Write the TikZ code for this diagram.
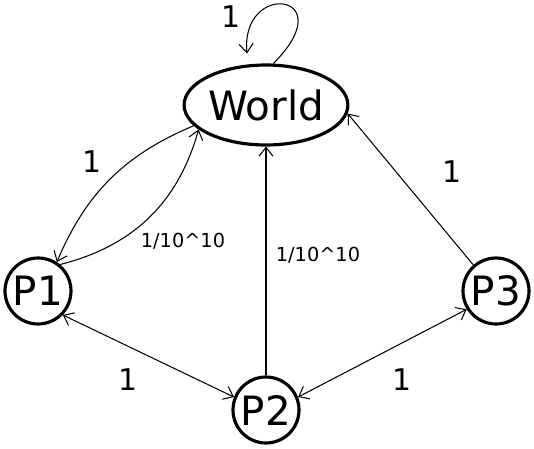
\documentclass[tikz,border=0pt]{standalone}
\usepackage{fontspec}
\setmainfont{DejaVu Sans}
\usetikzlibrary{arrows.meta,shapes.geometric}

\begin{document}
\begin{tikzpicture}
		% Define the styles for the states and the arrows
		\tikzset{
			state circle/.style={circle, draw=black, line width=1.8pt,
				minimum size=1.32cm, inner sep=0pt, font=\fontsize{23}{27}\selectfont},
			world ellipse/.style={ellipse, draw=black, line width=1.8pt,
				minimum width=3.08cm, minimum height=1.6cm, inner sep=0pt,
				font=\fontsize{23}{27}\selectfont},
			arrow line/.style={line width=0.6pt, -{Straight Barb[length=5pt,width=8pt]}},
			double arrow line/.style={line width=0.6pt,
				{Straight Barb[length=5pt,width=8pt]}-{Straight Barb[length=5pt,width=8pt]}},
			big label/.style={font=\fontsize{17}{20}\selectfont},
			small label/.style={font=\fontsize{11}{13}\selectfont}
		}
		
		% Fix the size of the picture
		\useasboundingbox (0,0) rectangle (10.68,-8.98);
		
		% Draw the states
		\node[world ellipse] (World) at (5.32,-2.10) {World};
		\node[state circle] (P1) at (0.76,-5.82) {P1};
		\node[state circle] (P2) at (5.32,-8.20) {P2};
		\node[state circle] (P3) at (9.92,-5.82) {P3};
		
		% Self loop on top of World
		\draw[arrow line, shorten >=2.2mm] (World.80) .. controls +(45:2cm) and +(95:1.7cm) .. (World.114);
		
		% Two curved arrows between World and P1
		\draw[arrow line] (World.196) to[bend right=22] (P1.57);
		\draw[arrow line] (P1.50) to[bend right=30] (World.200);
		
		% Straight arrows into World
		\draw[arrow line] (P2) -- (World);
		\draw[arrow line] (P3.131) -- (World.-6);
		
		% Arrows between the bottom states
		\draw[double arrow line] (P1.-44) -- (P2.158);
		\draw[double arrow line] (P2.22) -- (P3.212);
		
		% Add the labels
		\node[big label] (loop label) at (4.62,-0.34) {1};
		\node[big label] (p1 out label) at (1.84,-3.24) {1};
		\node[small label] (p1 in label) at (3.66,-4.82) {1/10\textasciicircum 10};
		\node[small label] (p2 in label) at (6.36,-5.10) {1/10\textasciicircum 10};
		\node[big label] (p3 in label) at (9.04,-3.44) {1};
		\node[big label] (p1p2 label) at (2.56,-7.60) {1};
		\node[big label] (p2p3 label) at (8.04,-7.60) {1};
	\end{tikzpicture}
\end{document}
